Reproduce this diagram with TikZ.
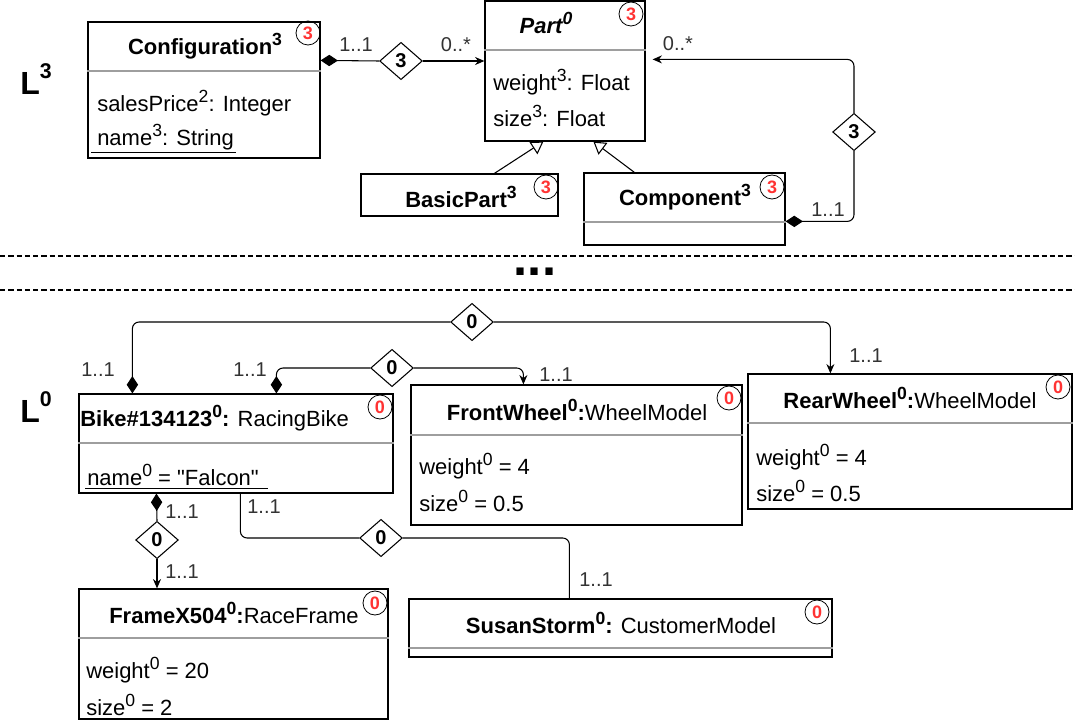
\documentclass[tikz,border=0pt]{standalone}
\usepackage{fontspec}
\setmainfont{Liberation Sans}[Ligatures=TeXOff]
\usetikzlibrary{arrows.meta,shapes.geometric,calc,fit}
\newcommand{\sps}[1]{\raisebox{0.4em}{\fontsize{13.2pt}{13.2pt}\selectfont #1}}
\newcommand{\lsps}[1]{\raisebox{0.5em}{\fontsize{16pt}{16pt}\selectfont #1}}
\definecolor{divgray}{HTML}{9E9E9E}
\definecolor{lblgray}{HTML}{333333}
\definecolor{mred}{HTML}{FF3333}
\begin{document}
\begin{tikzpicture}[x=0.75pt,y=-0.75pt,
  box/.style={draw=black, line width=0.9pt, inner sep=0pt},
  divider/.style={draw=divgray, line width=0.9pt},
  ttl/.style={font=\fontsize{16.5pt}{19pt}\selectfont, inner sep=0pt},
  attr/.style={font=\fontsize{16.5pt}{19pt}\selectfont, inner sep=0pt, anchor=west},
  mult/.style={font=\fontsize{15pt}{18pt}\selectfont, text=lblgray, inner sep=0pt},
  redc/.style={circle, draw=black, line width=0.6pt, inner sep=0pt, minimum size=18pt, text=mred, font=\bfseries\fontsize{13.5pt}{13.5pt}\selectfont},
  assoc/.style={diamond, draw=black, line width=0.8pt, fill=white, inner sep=0pt, minimum width=32pt, minimum height=28pt, font=\bfseries\fontsize{15pt}{15pt}\selectfont},
  conn/.style={draw=black, line width=0.8pt, rounded corners=5pt},
  comp/.style={conn, {Diamond[length=13pt,width=8.5pt]}-},
  nav/.style={conn, -{Stealth[length=7pt,width=6pt]}},
  gen/.style={conn, -{Triangle[open,length=9pt,width=11pt]}},
  lev/.style={font=\bfseries\fontsize{24pt}{26pt}\selectfont, inner sep=0pt},
  sepline/.style={draw=black, line width=1pt, dash pattern=on 4pt off 2.2pt}
]
\useasboundingbox[fill=white] (0,0) rectangle (1075,720);

% ---------------- level labels ----------------
\node[lev] (L3) at (36,79) {L\lsps{3}};
\node[lev] (L0) at (36,407) {L\lsps{0}};

% ---------------- upper level: boxes ----------------
\node[box, fit={(88,22) (320,158)}] (config) {};
\draw[divider] (config.west |- 0,71) -- (config.east |- 0,71);
\node[ttl] (configT) at (205,46) {\bfseries Configuration\sps{3}};
\node[redc] (configC) at (308,33) {3};
\node[attr] (cattr1) at (97,103) {salesPrice\sps{2}: Integer};
\node[attr] (cattr2) at (97,137) {name\sps{3}: String};
\draw[line width=0.7pt] ($(config.south west)+(4,-6)$) -- ($(config.south west)+(149,-6)$);

\node[box, fit={(485,1) (645,141)}] (part) {};
\draw[divider] (part.west |- 0,50) -- (part.east |- 0,50);
\node[ttl] (partT) at (546,23) {\bfseries\itshape Part\sps{0}};
\node[redc] (partC) at (631,14) {3};
\node[attr] (pattr1) at (493,82) {weight\sps{3}: Float};
\node[attr] (pattr2) at (493,116) {size\sps{3}: Float};

\node[box, fit={(361,174) (558,216)}] (basic) {};
\node[ttl] (basicT) at (461,197) {\bfseries BasicPart\sps{3}};
\node[redc] (basicC) at (546,187) {3};

\node[box, fit={(584,173) (785,245)}] (component) {};
\draw[divider] (component.west |- 0,222) -- (component.east |- 0,222);
\node[ttl] (compT) at (685,197) {\bfseries Component\sps{3}};
\node[redc] (compC) at (772,187) {3};

% ---------------- upper level: connectors ----------------
\node[assoc] (d1) at (401,61) {3};
\draw[comp] ($(config.north east)+(0,39)$) -- (d1.west);
\draw[nav] (d1.east) -- (part.west |- d1);
\node[mult] (m1) at (356,45) {1..1};
\node[mult] (m2) at (456,45) {0..*};

\node[assoc] (d2) at (854,132) {3};
\draw[comp] ($(component.north east)+(0,49)$) -| (d2.south);
\draw[nav] (d2.north) |- ($(part.north east)+(7,59)$);
\node[mult] (m3) at (678,44) {0..*};
\node[mult] (m4) at (828,210) {1..1};

\draw[gen] ($(basic.north west)+(134,0)$) -- ($(part.south west)+(59,0)$);
\draw[gen] ($(component.north west)+(51,0)$) -- ($(part.south west)+(109,0)$);

% ---------------- separator ----------------
\draw[sepline] (0,256) -- (1075,256);
\draw[sepline] (0,290) -- (1075,290);
\node[font=\bfseries\fontsize{38pt}{38pt}\selectfont, inner sep=0pt] (dots) at (535,272) {...};

% ---------------- lower level: boxes ----------------
\node[box, fit={(79,394) (393,493)}] (bike) {};
\draw[divider] (bike.west |- 0,443) -- (bike.east |- 0,443);
\node[ttl, anchor=west] (bikeT) at (80,418) {{\bfseries Bike\#134123\sps{0}:} RacingBike};
\node[redc] (bikeC) at (380,407) {0};
\node[attr] (battr1) at (87,475) {name\sps{0} = "Falcon"};
\draw[line width=0.7pt] (85,488) -- (268,488);

\node[box, fit={(411,385) (742,525)}] (front) {};
\draw[divider] (front.west |- 0,435) -- (front.east |- 0,435);
\node[ttl] (frontT) at (577,410) {{\bfseries FrontWheel\sps{0}:}WheelModel};
\node[redc] (frontC) at (729,398) {0};
\node[attr] (fattr1) at (419,466) {weight\sps{0} = 4};
\node[attr] (fattr2) at (419,501) {size\sps{0} = 0.5};

\node[box, fit={(748,374) (1072,509)}] (rear) {};
\draw[divider] (rear.west |- 0,423) -- (rear.east |- 0,423);
\node[ttl] (rearT) at (910,398) {{\bfseries RearWheel\sps{0}:}WheelModel};
\node[redc] (rearC) at (1058,387) {0};
\node[attr] (rattr1) at (756,457) {weight\sps{0} = 4};
\node[attr] (rattr2) at (756,491) {size\sps{0} = 0.5};

\node[box, fit={(79,589) (388,719)}] (frame) {};
\draw[divider] (frame.west |- 0,638) -- (frame.east |- 0,638);
\node[ttl] (frameT) at (234,613) {{\bfseries FrameX504\sps{0}:}RaceFrame};
\node[redc] (frameC) at (375,603) {0};
\node[attr] (frattr1) at (86,670) {weight\sps{0} = 20};
\node[attr] (frattr2) at (86,705) {size\sps{0} = 2};

\node[box, fit={(409,599) (832,657)}] (susan) {};
\draw[divider] (susan.west |- 0,648) -- (susan.east |- 0,648);
\node[ttl] (susanT) at (621,623) {{\bfseries SusanStorm\sps{0}:} CustomerModel};
\node[redc] (susanC) at (817,612) {0};

% ---------------- lower level: connectors ----------------
\node[assoc] (dA) at (472,322) {0};
\draw[comp] ($(bike.north west)+(54,0)$) |- (dA.west);
\draw[nav] (dA.east) -| ($(rear.north west)+(83,0)$);
\node[mult] (mA1) at (98,370) {1..1};
\node[mult] (mA2) at (866,356) {1..1};

\node[assoc] (dB) at (392,368) {0};
\draw[comp] ($(bike.north west)+(198,0)$) |- (dB.west);
\draw[nav] (dB.east) -| ($(front.north west)+(113,0)$);
\node[mult] (mB1) at (250,370) {1..1};
\node[mult] (mB2) at (556,375) {1..1};

\node[assoc] (dC) at (157,540) {0};
\draw[comp] ($(bike.south west)+(78,0)$) -- (dC.north);
\draw[nav] (dC.south) -- (frame.north west -| dC);
\node[mult] (mC1) at (182,512) {1..1};
\node[mult] (mC2) at (182,572) {1..1};

\node[assoc] (dD) at (381,538) {0};
\draw[conn] ($(bike.south west)+(162,0)$) |- (dD.west);
\draw[conn] (dD.east) -| ($(susan.north west)+(161,0)$);
\node[mult] (mD1) at (264,507) {1..1};
\node[mult] (mD2) at (596,580) {1..1};
\end{tikzpicture}
\end{document}
